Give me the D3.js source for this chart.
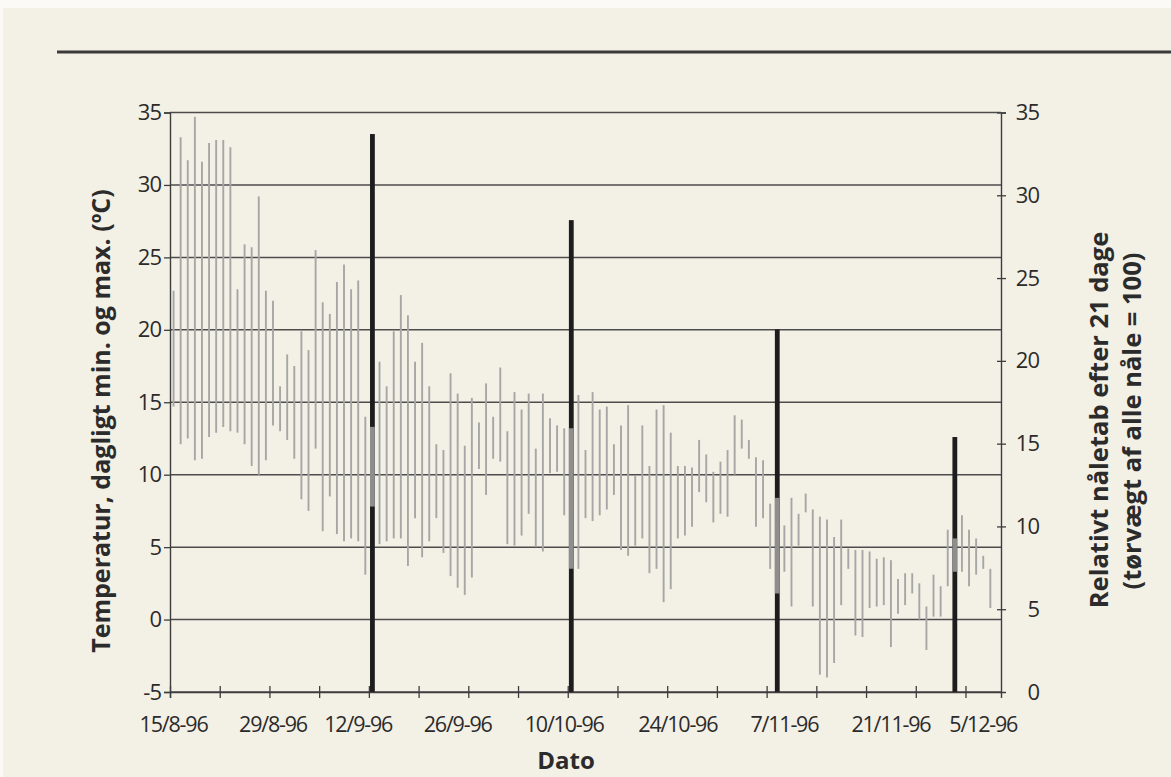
<!DOCTYPE html>
<html>
<head>
<meta charset="utf-8">
<script src="https://cdn.jsdelivr.net/npm/d3@7"></script>
<style>
  html, body { margin: 0; padding: 0; background: #fbfaf7; }
  svg { display: block; }
</style>
</head>
<body>
<svg id="chart" width="1171" height="777"></svg>
<script>
// Daily temperature range from 15/8-96 (one entry per day, °C)
const startDate = Date.UTC(1996, 7, 15);
const dayCount = 117;

const tempMax = [
  22.7, 33.3, 31.7, 34.7, 31.6, 32.9, 33.1, 33.1, 32.6, 22.8,
  25.9, 25.7, 29.2, 22.7, 22.0, 16.1, 18.3, 17.5, 19.9, 18.6,
  25.5, 21.9, 21.1, 23.3, 24.5, 22.8, 23.4, 14.0, 13.3, 17.8,
  16.1, 19.9, 22.4, 21.0, 17.8, 19.1, 16.1, 12.1, 11.7, 17.0,
  15.6, 12.0, 15.3, 13.6, 16.3, 14.0, 17.4, 13.0, 15.7, 14.5,
  15.6, 11.8, 15.6, 13.9, 13.4, 13.2, 13.2, 15.5, 11.7, 15.7,
  14.5, 14.7, 12.1, 13.4, 14.8, 9.9, 13.4, 10.6, 14.5, 14.8,
  12.9, 10.6, 10.6, 10.5, 12.4, 11.4, 10.2, 10.9, 11.7, 14.1,
  13.8, 12.4, 11.2, 11.0, 8.0, 8.4, 6.5, 8.4, 7.3, 8.7,
  7.6, 7.1, 6.9, 5.7, 6.9, 4.9, 4.8, 4.8, 4.7, 4.2,
  4.3, 4.1, 2.8, 3.2, 3.2, 2.5, 0.9, 3.1, 2.3, 6.2,
  5.6, 7.2, 6.2, 5.6, 4.4, 3.5
];
const tempMin = [
  14.7, 12.1, 12.5, 11.0, 11.1, 12.6, 12.9, 13.3, 13.0, 12.9,
  12.1, 10.6, 10.0, 11.0, 13.4, 13.0, 12.4, 11.1, 8.3, 7.5,
  11.8, 6.1, 8.5, 5.9, 5.4, 5.6, 5.4, 3.1, 7.8, 5.2,
  5.4, 5.6, 5.6, 3.7, 7.0, 4.3, 5.4, 7.0, 4.6, 3.0,
  2.2, 1.7, 2.9, 10.4, 8.6, 11.1, 10.9, 5.2, 5.1, 5.8,
  7.3, 5.0, 4.7, 10.1, 10.2, 7.2, 3.5, 3.5, 7.0, 6.8,
  7.2, 7.6, 8.6, 4.8, 4.4, 5.1, 5.6, 3.2, 3.5, 1.2,
  2.1, 5.6, 5.8, 6.4, 8.8, 8.1, 6.7, 7.3, 7.1, 10.0,
  11.8, 11.1, 6.4, 7.0, 3.5, 1.8, 3.3, 0.9, 5.1, 7.4,
  0.9, -3.8, -4.0, -3.0, 1.0, 3.5, -1.1, -1.2, 0.8, 0.9,
  1.0, -1.9, 0.4, 1.0, 1.8, 0.0, -2.1, 0.2, 0.2, 2.3,
  3.3, 3.3, 2.3, 3.1, 3.5, 0.8
];

// Relative needle loss after 21 days (dry weight of all needles = 100)
const sampleDays = [28, 56, 85, 110];
const needleLoss = [33.7, 28.5, 21.9, 15.4];

// Axis ticks and date labels
const leftTicks = [-5, 0, 5, 10, 15, 20, 25, 30, 35];
const rightTicks = [0, 5, 10, 15, 20, 25, 30, 35];
const dateLabels = ["15/8-96", "29/8-96", "12/9-96", "26/9-96", "10/10-96",
                    "24/10-96", "7/11-96", "21/11-96", "5/12-96"];
const dateLabelDays = [0, 14, 26, 40, 55, 71, 86, 101, 114];

const FONT = "'Open Sans', 'Noto Sans', sans-serif";
const INK = "#2b2b2b";
const AXIS = "#3d3d3d";

const svg = d3.select("#chart");

// paper
svg.append("rect").attr("x", 3).attr("y", 8).attr("width", 1168).attr("height", 769)
  .attr("fill", "#f3f0e6");

// rule across the top of the page
svg.append("line").attr("x1", 57).attr("x2", 1171).attr("y1", 52).attr("y2", 52)
  .attr("stroke", "#3a3a3a").attr("stroke-width", 3);

const dayDate = i => new Date(startDate + i * 86400000);
const x = d3.scaleUtc()
  .domain([dayDate(0), dayDate(dayCount)])
  .range([170, 1001]);
const dayX = i => x(new Date(startDate + (i + 0.5) * 86400000));

const yT = d3.scaleLinear().domain([-5, 35]).range([692, 112.5]);
const yR = d3.scaleLinear().domain([0, 35]).range([692, 112.5]);

const plotL = x.range()[0], plotR = x.range()[1];
const plain = d => String(d);

// horizontal gridlines
svg.append("g").selectAll("line").data(leftTicks).join("line")
  .attr("x1", plotL).attr("x2", plotR)
  .attr("y1", d => yT(d)).attr("y2", d => yT(d))
  .attr("stroke", "#4c4c4c").attr("stroke-width", 1.5);

// needle loss columns (right axis)
const sampleSet = new Set(sampleDays);
svg.append("g").selectAll("rect").data(sampleDays.map((d, k) => ({ day: d, v: needleLoss[k] })))
  .join("rect")
  .attr("x", d => dayX(d.day) - 2.4)
  .attr("width", 4.8)
  .attr("y", d => yR(d.v))
  .attr("height", d => yR(0) - yR(d.v))
  .attr("fill", "#1d1d1d");

// daily min-max temperature bars
const temps = tempMax.map((mx, i) => ({ day: i, max: mx, min: tempMin[i] }));
svg.append("g").selectAll("line").data(temps).join("line")
  .attr("x1", d => dayX(d.day)).attr("x2", d => dayX(d.day))
  .attr("y1", d => yT(d.min)).attr("y2", d => yT(d.max))
  .attr("stroke", d => sampleSet.has(d.day) ? "#8e8e8e" : "#a6a6a6")
  .attr("stroke-width", d => sampleSet.has(d.day) ? 4.8 : 1.9);

// left axis
const gL = svg.append("g").attr("transform", `translate(${plotL},0)`)
  .call(d3.axisLeft(yT).tickValues(leftTicks).tickSize(6).tickPadding(3).tickFormat(plain));
gL.select(".domain").attr("stroke", AXIS).attr("stroke-width", 1.4);
gL.selectAll(".tick line").attr("stroke", AXIS).attr("stroke-width", 1.3);
gL.selectAll("text").attr("font-family", FONT).attr("font-size", 22).attr("fill", INK)
  .attr("letter-spacing", "-1");

// right axis
const gR = svg.append("g").attr("transform", `translate(${plotR},0)`)
  .call(d3.axisRight(yR).tickValues(rightTicks).tickSize(5).tickFormat(plain));
gR.select(".domain").attr("stroke", AXIS).attr("stroke-width", 1.4);
gR.selectAll(".tick line").attr("x1", -4).attr("x2", 5).attr("stroke", AXIS).attr("stroke-width", 1.3);
gR.selectAll(".tick").filter(d => d === 0).select("line").remove();
gR.selectAll("text").attr("font-family", FONT).attr("font-size", 22).attr("fill", INK)
  .attr("letter-spacing", "-1").attr("text-anchor", "end").attr("x", 38);

// bottom axis: weekly ticks across the line
const weekTicks = d3.range(0, dayCount, 7).map(dayDate);
const gB = svg.append("g").attr("transform", `translate(0,${yT(-5)})`)
  .call(d3.axisBottom(x).tickValues(weekTicks).tickSize(6).tickFormat(""));
gB.select(".domain").attr("stroke", AXIS).attr("stroke-width", 1.4);
gB.selectAll(".tick line").attr("y1", -6).attr("y2", 6).attr("stroke", AXIS).attr("stroke-width", 1.3);

// date labels
svg.append("g").selectAll("text").data(dateLabels).join("text")
  .attr("x", (d, i) => dayX(dateLabelDays[i]))
  .attr("y", 732)
  .attr("text-anchor", "middle")
  .attr("font-family", FONT).attr("font-size", 21.5).attr("fill", INK)
  .attr("letter-spacing", "-1.2")
  .text(d => d);

// axis titles
const title = (t, size) => svg.append("text")
  .attr("text-anchor", "middle")
  .attr("font-family", FONT).attr("font-weight", 700).attr("font-size", size).attr("fill", INK)
  .text(t);

title("Temperatur, dagligt min. og max. (ºC)", 25)
  .attr("transform", "translate(110,421) rotate(-90)");
title("Relativt nåletab efter 21 dage", 25.5)
  .attr("transform", "translate(1108,420) rotate(-90)");
title("(tørvægt af alle nåle = 100)", 25.5)
  .attr("transform", "translate(1141,421) rotate(-90)");
title("Dato", 24)
  .attr("x", 566).attr("y", 769);
</script>
</body>
</html>
